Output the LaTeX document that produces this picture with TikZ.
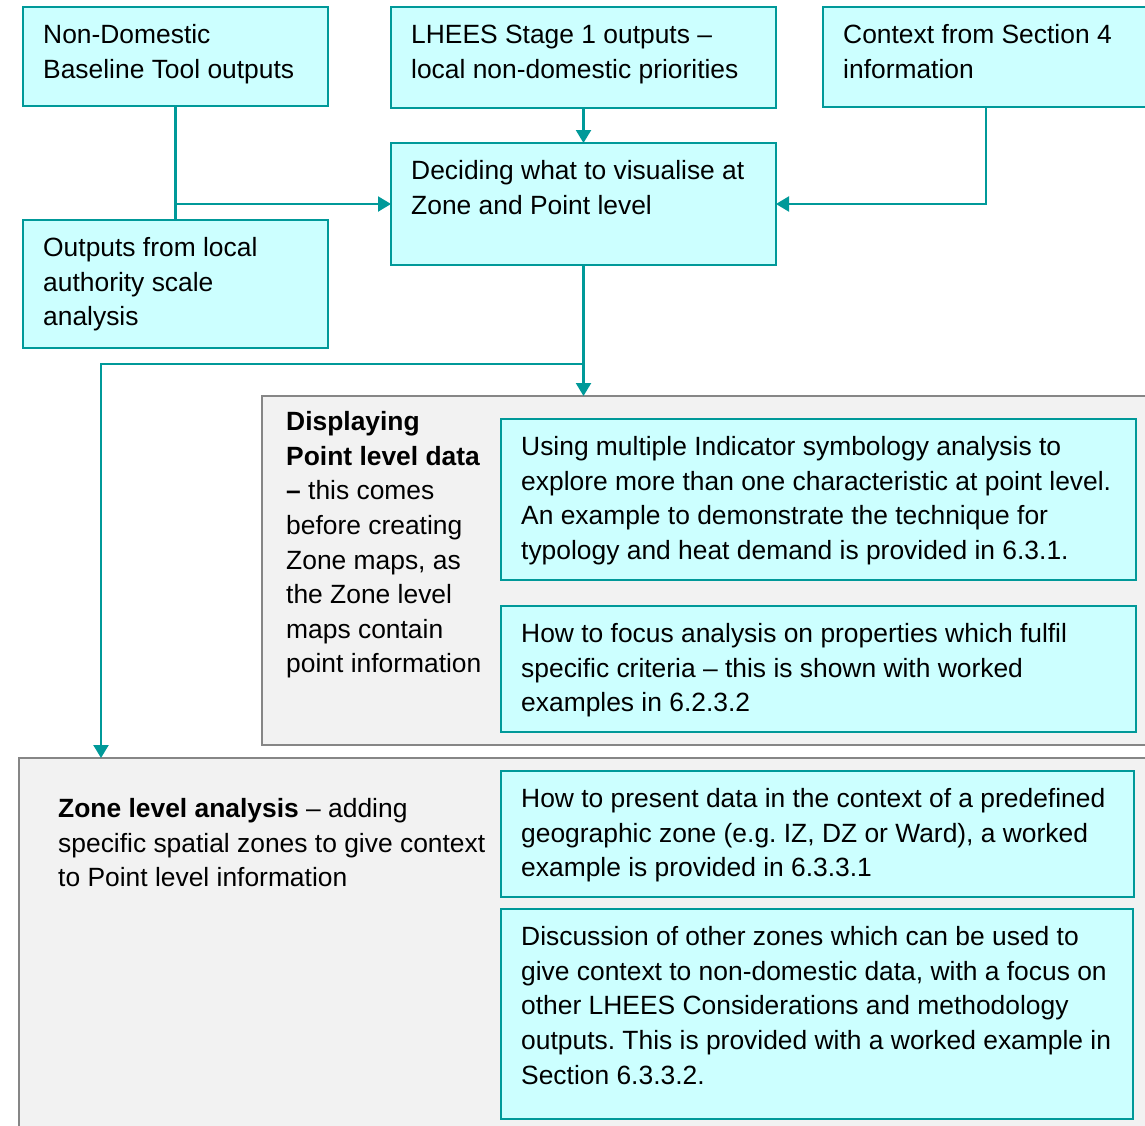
\documentclass[tikz,border=0pt]{standalone}
\usepackage{fontspec}
\setmainfont{Liberation Sans}
\frenchspacing
\usetikzlibrary{arrows.meta,calc}

\definecolor{flowteal}{HTML}{009999}
\definecolor{boxfill}{HTML}{CCFFFF}
\definecolor{panelfill}{HTML}{F2F2F2}
\definecolor{panelline}{HTML}{868686}

\tikzset{
  cbox/.style={draw=flowteal, line width=2.2pt, fill=boxfill, anchor=north west,
               inner sep=0pt, outer sep=0pt},
  panel/.style={draw=panelline, line width=2.6pt, fill=panelfill, anchor=north west,
                inner sep=0pt, outer sep=0pt},
  txt/.style={anchor=north west, inner sep=0pt, align=left, text width=#1,
              font=\fontsize{26.4}{34.6}\selectfont,
              execute at begin node={\spaceskip=0pt\xspaceskip=0pt\frenchspacing\strut}},
  link/.style={draw=flowteal, line width=2.2pt},
  arr/.style={link, -{Triangle[length=13pt,width=15pt]}}
}

\begin{document}
\begin{tikzpicture}[x=1pt,y=-1pt]
  \useasboundingbox (0,0) rectangle (1145,1125);
  \fill[white] (0,0) rectangle (1145,1125);
  \clip (0,0) rectangle (1145,1125);

  % grey panels
  \node[panel, minimum width=900, minimum height=349] (G1) at (262,396) {};
  \node[panel, minimum width=1145, minimum height=380] (G2) at (19,758) {};

  % top row of inputs
  \node[cbox, minimum width=305, minimum height=99]  (A) at (23,7) {};
  \node[cbox, minimum width=385, minimum height=101] (B) at (391,7) {};
  \node[cbox, minimum width=326, minimum height=100] (C) at (823,7) {};
  \node[cbox, minimum width=385, minimum height=122] (D) at (391,143) {};
  \node[cbox, minimum width=305, minimum height=128] (E) at (23,220) {};

  % boxes inside the panels
  \node[cbox, minimum width=635, minimum height=161] (P1) at (501,419) {};
  \node[cbox, minimum width=635, minimum height=126] (P2) at (501,606) {};
  \node[cbox, minimum width=633, minimum height=126] (Z1) at (501,771) {};
  \node[cbox, minimum width=632, minimum height=210] (Z2) at (501,909) {};

  % texts
  \node[txt=290] (At) at ($(A.north west)+(20,12.3)$)
    {Non-Domestic\\Baseline Tool outputs};
  \node[txt=370] (Bt) at ($(B.north west)+(20,12.3)$)
    {LHEES Stage 1 outputs –\\local non-domestic priorities};
  \node[txt=300] (Ct) at ($(C.north west)+(20,12.3)$)
    {Context from Section 4\\information};
  \node[txt=370] (Dt) at ($(D.north west)+(20,12.3)$)
    {Deciding what to visualise at\\Zone and Point level};
  \node[txt=290] (Et) at ($(E.north west)+(20,12.3)$)
    {Outputs from local\\authority scale\\analysis};
  \node[txt=215] (G1t) at ($(G1.north west)+(24,10.3)$)
    {\textbf{Displaying}\\\textbf{Point level data}\\\textbf{–} this comes\\before creating\\Zone maps, as\\the Zone level\\maps contain\\point information};
  \node[txt=615] (P1t) at ($(P1.north west)+(20,12.3)$)
    {Using multiple Indicator symbology analysis to\\explore more than one characteristic at point level.\\An example to demonstrate the technique for\\typology and heat demand is provided in 6.3.1.};
  \node[txt=615] (P2t) at ($(P2.north west)+(20,12.3)$)
    {How to focus analysis on properties which fulfil\\specific criteria – this is shown with worked\\examples in 6.2.3.2};
  \node[txt=440] (G2t) at ($(G2.north west)+(39,35.3)$)
    {\textbf{Zone level analysis} – adding\\specific spatial zones to give context\\to Point level information};
  \node[txt=615] (Z1t) at ($(Z1.north west)+(20,12.3)$)
    {How to present data in the context of a predefined\\geographic zone (e.g. IZ, DZ or Ward), a worked\\example is provided in 6.3.3.1};
  \node[txt=615] (Z2t) at ($(Z2.north west)+(20,12.3)$)
    {Discussion of other zones which can be used to\\give context to non-domestic data, with a focus on\\other LHEES Considerations and methodology\\outputs. This is provided with a worked example in\\Section 6.3.3.2.};

  % connectors
  \draw[link] (A.south) -- (E.north);
  \coordinate (join) at (A.south |- D.west);
  \draw[arr] (join) -- (D.west);
  \draw[arr] (B.south) -- (D.north);
  \draw[arr] (C.south) |- (D.east);
  \coordinate (split) at ($(D.south)+(0,99)$);
  \coordinate (zonein) at ($(G2.north west)+(82,0)$);
  \draw[arr] (D.south) -- (D.south |- G1.north);
  \draw[arr] (split) -| (zonein);
\end{tikzpicture}
\end{document}
